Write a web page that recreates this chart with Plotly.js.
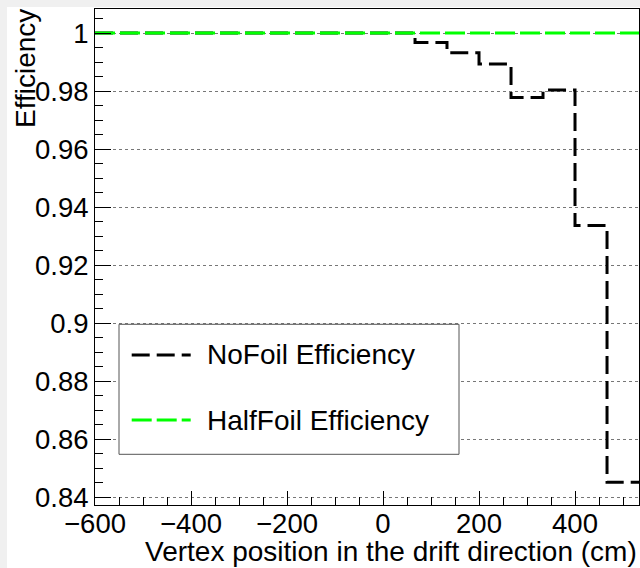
<!DOCTYPE html>
<html>
<head>
<meta charset="utf-8">
<script src="https://cdn.plot.ly/plotly-3.0.1.min.js"></script>
<style>
  html, body { margin: 0; padding: 0; background: #f0f0f0; width: 640px; height: 568px; overflow: hidden; }
  #chart { position: absolute; left: 7px; top: 7px; width: 633px; height: 561px; background: #fff; }
</style>
</head>
<body>
<div id="chart"></div>
<script>
// Bin edges (cm) of the histogram, 17 bins
const binEdges = [-600, -533.3, -466.7, -400, -333.3, -266.7, -200, -133.3, -66.7, 0,
                  66.7, 133.3, 200, 266.7, 333.3, 400, 466.7, 533.3];
// Efficiency per bin
const noFoilEff = [1, 1, 1, 1, 1, 1, 1, 1, 1, 1,
                   0.9967, 0.9932, 0.9893, 0.9778, 0.9804, 0.9337, 0.8452];
const halfFoilEff = [1, 1, 1, 1, 1, 1, 1, 1, 1, 1,
                     1, 1, 1, 1, 1, 1, 1];
const seriesNames = ["NoFoil Efficiency", "HalfFoil Efficiency"];
const xTitle = "Vertex position in the drift direction (cm)";
const yTitle = "Efficiency";

function stepY(vals) { return vals.concat([vals[vals.length - 1]]); }

const FONT = "Liberation Sans, Arial, Helvetica, sans-serif";
const blackDash = "18px,7px";
const greenDash = "20px,5px";

const traces = [
  {
    x: binEdges, y: stepY(noFoilEff), type: "scatter", mode: "lines",
    line: { shape: "hv", color: "#000000", width: 3, dash: blackDash },
    name: seriesNames[0], showlegend: false, hoverinfo: "skip"
  },
  {
    x: binEdges, y: stepY(halfFoilEff), type: "scatter", mode: "lines",
    line: { shape: "hv", color: "#00ff00", width: 3, dash: greenDash },
    name: seriesNames[1], showlegend: false, hoverinfo: "skip"
  }
];

// plot area: x 95..639, y 9..505 (absolute)
const PW = 544, PH = 496, PL = 95, PT = 9;
const px = v => (v - PL) / PW;
const py = v => (PT + PH - v) / PH;

const layout = {
  width: 633, height: 561,
  margin: { l: 88, r: 1, t: 2, b: 63, pad: 0 },
  paper_bgcolor: "#ffffff", plot_bgcolor: "#ffffff",
  font: { family: FONT, size: 28, color: "#000" },
  showlegend: false,
  xaxis: {
    range: [-600, 533.3], tick0: -600, dtick: 200,
    ticks: "inside", ticklen: 14, tickwidth: 1, tickcolor: "#000",
    minor: { dtick: 50, ticks: "inside", ticklen: 8, tickcolor: "#000", tickwidth: 1, showgrid: false },
    showline: true, linecolor: "#000", linewidth: 1, mirror: true,
    showgrid: false, zeroline: false,
    ticklabelstandoff: -6,
    tickfont: { family: FONT, size: 27.5, color: "#000" }
  },
  yaxis: {
    range: [0.83735, 1.00827], tick0: 0.84, dtick: 0.02,
    ticks: "inside", ticklen: 16, tickwidth: 1, tickcolor: "#000",
    minor: { dtick: 0.005, ticks: "inside", ticklen: 8, tickcolor: "#000", tickwidth: 1, showgrid: false },
    showline: true, linecolor: "#000", linewidth: 1, mirror: true,
    showgrid: true, gridcolor: "#777", griddash: "dot", gridwidth: 1,
    zeroline: false,
    tickfont: { family: FONT, size: 27.5, color: "#000" }
  },
  shapes: [
    { type: "rect", xref: "paper", yref: "paper",
      x0: px(119), x1: px(459), y0: py(454.3), y1: py(324.3),
      fillcolor: "#ffffff", line: { color: "#555", width: 1 }, layer: "above" },
    { type: "line", xref: "paper", yref: "paper",
      x0: px(131.7), x1: px(190.7), y0: py(355), y1: py(355),
      line: { color: "#000000", width: 3, dash: blackDash }, layer: "above" },
    { type: "line", xref: "paper", yref: "paper",
      x0: px(131.7), x1: px(190.7), y0: py(420), y1: py(420),
      line: { color: "#00ff00", width: 3, dash: greenDash }, layer: "above" }
  ],
  annotations: [
    { xref: "paper", yref: "paper", x: px(205), y: py(355), xanchor: "left", yanchor: "middle",
      text: seriesNames[0], showarrow: false, font: { family: FONT, size: 28, color: "#000" } },
    { xref: "paper", yref: "paper", x: px(205), y: py(420), xanchor: "left", yanchor: "middle",
      text: seriesNames[1], showarrow: false, font: { family: FONT, size: 28, color: "#000" } },
    { xref: "paper", yref: "paper", x: 1, y: py(551), xanchor: "right", yanchor: "middle",
      text: xTitle, showarrow: false, font: { family: FONT, size: 28, color: "#000" } },
    { xref: "paper", yref: "paper", x: px(25), y: py(69), xanchor: "center", yanchor: "middle",
      text: yTitle, textangle: -90, showarrow: false, font: { family: FONT, size: 28, color: "#000" } }
  ]
};

Plotly.newPlot("chart", traces, layout, { staticPlot: true, displayModeBar: false });
</script>
</body>
</html>
